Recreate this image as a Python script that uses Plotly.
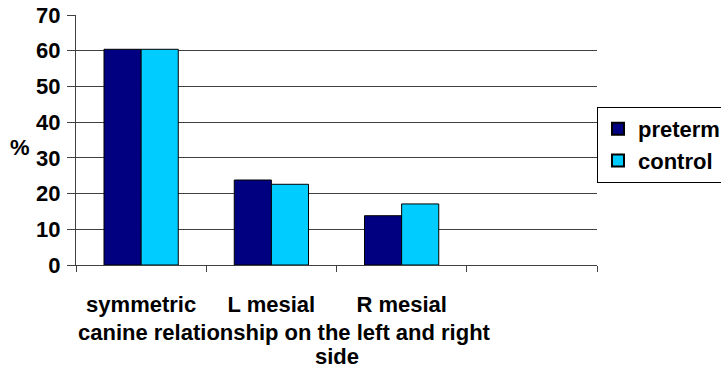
import plotly.graph_objects as go

categories = ["symmetric", "L mesial", "R mesial", " "]
preterm = [60.4, 23.8, 13.8, None]
control = [60.4, 22.6, 17.1, None]
y_ticks = [0, 10, 20, 30, 40, 50, 60, 70]

FONT = "Liberation Sans, Arial, sans-serif"
FS = 22

fig = go.Figure()
fig.add_trace(go.Bar(name="preterm", x=categories, y=preterm,
                     marker=dict(color="#000080", line=dict(color="#000000", width=1))))
fig.add_trace(go.Bar(name="control", x=categories, y=control,
                     marker=dict(color="#00CCFF", line=dict(color="#000000", width=1))))

fig.update_layout(
    width=721, height=371,
    margin=dict(l=76, r=124, t=15, b=106, autoexpand=False),
    paper_bgcolor="white", plot_bgcolor="white",
    barmode="group", bargap=0.43, bargroupgap=0,
    font=dict(family=FONT, size=FS, color="#000000", weight="bold"),
    legend=dict(x=1.0, y=0.632, xanchor="left", yanchor="top",
                bordercolor="#000000", borderwidth=1, bgcolor="white",
                font=dict(family=FONT, size=FS, color="#000000", weight="bold"),
                itemsizing="constant", tracegroupgap=0),
    xaxis=dict(type="category", categoryorder="array", categoryarray=categories,
               range=[-0.5, 3.5], tickson="boundaries", ticks="outside", ticklen=6,
               tickcolor="#404040", showline=True, linecolor="#404040", linewidth=1,
               showgrid=False, ticklabelstandoff=20,
               tickfont=dict(family=FONT, size=FS, color="#000000", weight="bold")),
    yaxis=dict(range=[0, 70], tickvals=y_ticks, ticks="outside", ticklen=8,
               tickcolor="#404040", showline=True, linecolor="#404040", linewidth=1,
               showgrid=True, gridcolor="#404040", gridwidth=1, zeroline=False,
               ticklabelstandoff=2,
               tickfont=dict(family=FONT, size=FS, color="#000000", weight="bold")),
    annotations=[
        dict(text="%", x=-0.1075, y=0.472, xref="paper", yref="paper",
             xanchor="center", yanchor="middle", showarrow=False,
             font=dict(family=FONT, size=FS, color="#000000", weight="bold")),
        dict(text="canine relationship on the left and right", x=0.401, y=-0.268,
             xref="paper", yref="paper", xanchor="center", yanchor="middle",
             showarrow=False,
             font=dict(family=FONT, size=FS, color="#000000", weight="bold")),
        dict(text="side", x=0.501, y=-0.366, xref="paper", yref="paper",
             xanchor="center", yanchor="middle", showarrow=False,
             font=dict(family=FONT, size=FS, color="#000000", weight="bold")),
    ],
)

fig.write_html("out.html")
